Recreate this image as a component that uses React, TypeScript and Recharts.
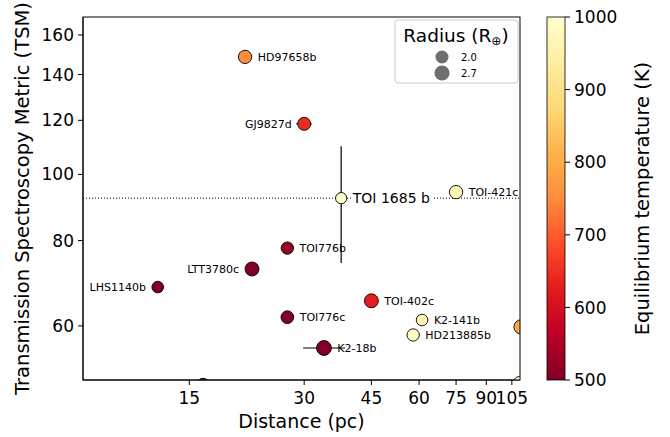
import React from 'react';
import { ScatterChart, Scatter, XAxis, YAxis, ReferenceLine, ErrorBar } from 'recharts';

// Planet sample: distance (pc), TSM, equilibrium temperature (K), radius (Earth radii)
const planetNames = [
  'HD97658b', 'GJ9827d', 'TOI 1685 b', 'TOI-421c', 'TOI776b', 'LTT3780c', 'LHS1140b',
  'TOI776c', 'K2-18b', 'TOI-402c', 'K2-141b', 'HD213885b', '', '', '',
];
const distances = [21.0, 30.0, 37.5, 75.0, 27.1, 21.9, 12.4, 27.1, 33.8, 45.0, 61.1, 57.9, 111, 16.3, 110];
const tsmValues = [148.6, 118.6, 92.3, 94.2, 78.0, 72.7, 68.4, 61.8, 55.7, 65.3, 61.2, 58.2, 59.8, 49.2, 49.6];
const teqValues = [750, 645, 1000, 970, 520, 500, 500, 500, 500, 630, 960, 990, 790, 500, 985];
const radii = [2.1, 2.0, 1.5, 2.1, 1.8, 2.3, 1.6, 1.9, 2.6, 2.3, 1.6, 1.8, 2.4, 2.0, 1.7];
const labelSides = ['right', 'left', 'right', 'right', 'right', 'left', 'left', 'right', 'right', 'right', 'right', 'right', 'right', 'right', 'right'];

// distance uncertainties (pc), [minus, plus]
const xErrPlanets = ['HD97658b', 'GJ9827d', 'TOI-421c', 'LHS1140b', 'K2-18b', 'K2-141b'];
const xErrValues = [[0.4, 0.4], [1.4, 1.4], [0.8, 0.8], [0.4, 0.4], [4.0, 4.6], [2.2, 2.2]];
// TSM uncertainties, [minus, plus]
const yErrPlanets = ['TOI 1685 b'];
const yErrValues = [[18.1, 17.7]];

const highlighted = 'TOI 1685 b';

const xTicks = [15, 30, 45, 60, 75, 90, 105];
const yTicks = [60, 80, 100, 120, 140, 160];
const xDomain = [7.9, 110.3];
const yDomain = [50, 170];

const teqTicks = [500, 600, 700, 800, 900, 1000];
const teqRange = [500, 1000];
const legendRadii = [2.0, 2.7];

// YlOrRd, light to dark
const YLORRD = ['#ffffcc', '#ffeda0', '#fed976', '#feb24c', '#fd8d3c', '#fc4e2a', '#e31a1c', '#bd0026', '#800026'];

const FONT = 'DejaVu Sans, sans-serif';

const hexToRgb = (h: string) => [1, 3, 5].map((i) => parseInt(h.slice(i, i + 2), 16));

const teqColor = (t: number) => {
  const f = Math.min(1, Math.max(0, (t - teqRange[0]) / (teqRange[1] - teqRange[0])));
  const pos = (1 - f) * (YLORRD.length - 1);
  const i = Math.min(Math.floor(pos), YLORRD.length - 2);
  const k = pos - i;
  const a = hexToRgb(YLORRD[i]);
  const b = hexToRgb(YLORRD[i + 1]);
  const c = a.map((v, j) => Math.round(v + (b[j] - v) * k));
  return `rgb(${c[0]},${c[1]},${c[2]})`;
};

// marker area grows linearly with planet radius
const dotRadius = (R: number) => 4.6 * Math.sqrt(R);

const planets = planetNames.map((name, i) => ({
  id: i,
  name,
  distance: distances[i],
  tsm: tsmValues[i],
  teq: teqValues[i],
  radius: radii[i],
  side: labelSides[i],
}));

const xErrData = xErrPlanets.map((name, i) => {
  const p = planets.find((q) => q.name === name)!;
  return { distance: p.distance, tsm: p.tsm, xErr: xErrValues[i] };
});
const yErrData = yErrPlanets.map((name, i) => {
  const p = planets.find((q) => q.name === name)!;
  return { distance: p.distance, tsm: p.tsm, yErr: yErrValues[i] };
});

const plotLeft = 83;
const plotTop = 17;
const plotRight = 520;
const plotBottom = 380;

const PlanetDot = (props: any) => {
  const { cx, cy, payload } = props;
  if (cx == null || cy == null) return null;
  const r = dotRadius(payload.radius);
  const big = payload.name === highlighted;
  const fs = big ? 14 : 11;
  const gap = r + 6;
  const tx = payload.side === 'left' ? cx - gap : cx + gap;
  const anchor = payload.side === 'left' ? 'end' : 'start';
  const textW = payload.name.length * fs * 0.56;
  const clipId = `planet-clip-${payload.id}`;
  return (
    <g>
      {/* markers are cut at the axes box, labels are not */}
      <clipPath id={clipId}>
        <rect x={plotLeft} y={plotTop} width={plotRight - plotLeft} height={plotBottom - plotTop} />
      </clipPath>
      <circle
        cx={cx}
        cy={cy}
        r={r}
        fill={teqColor(payload.teq)}
        stroke="#000"
        strokeWidth={0.9}
        clipPath={`url(#${clipId})`}
      />
      {payload.name && big && (
        <rect x={tx - 1} y={cy - fs * 0.6} width={textW + 2} height={fs * 1.2} fill="#fff" />
      )}
      {payload.name && (
        <text x={tx} y={cy} dy="0.36em" textAnchor={anchor} fontSize={fs} fontFamily={FONT} fill="#000">
          {payload.name}
        </text>
      )}
    </g>
  );
};

const NoShape = () => <g />;

const Overlay = () => {
  const barX = 547;
  const barW = 18;
  const barTop = plotTop;
  const barH = plotBottom - plotTop;
  const teqY = (t: number) => barTop + ((teqRange[1] - t) / (teqRange[1] - teqRange[0])) * barH;
  const midY = barTop + barH / 2;
  return (
    <svg width={670} height={437} style={{ position: 'absolute', left: 0, top: 0, pointerEvents: 'none' }}>
      <defs>
        <linearGradient id="teqGrad" x1="0" y1="0" x2="0" y2="1">
          {YLORRD.map((c, i) => (
            <stop key={c} offset={i / (YLORRD.length - 1)} stopColor={c} />
          ))}
        </linearGradient>
      </defs>
      {/* axes frame */}
      <rect
        x={plotLeft}
        y={plotTop}
        width={plotRight - plotLeft}
        height={plotBottom - plotTop}
        fill="none"
        stroke="#000"
        strokeWidth={1}
      />
      {/* radius legend */}
      <rect x={395} y={20} width={123} height={63} rx={3} fill="#fff" fillOpacity={0.8} stroke="#cccccc" />
      <text x={456} y={42} textAnchor="middle" fontSize={18.5} fontFamily={FONT} fill="#000">
        Radius (R<tspan fontSize={12} dy={3}>⊕</tspan><tspan dy={-3}>)</tspan>
      </text>
      {legendRadii.map((R, i) => (
        <g key={R}>
          <circle cx={442} cy={57 + i * 16} r={dotRadius(R)} fill="#6e6e6e" />
          <text x={461} y={57 + i * 16} dy="0.36em" fontSize={10} fontFamily={FONT} fill="#000">
            {R.toFixed(1)}
          </text>
        </g>
      ))}
      {/* temperature colorbar */}
      <rect x={barX} y={barTop} width={barW} height={barH} fill="url(#teqGrad)" stroke="#000" strokeWidth={0.8} />
      {teqTicks.map((t) => (
        <g key={t}>
          <line x1={barX + barW} x2={barX + barW + 5} y1={teqY(t)} y2={teqY(t)} stroke="#000" />
          <text x={barX + barW + 9} y={teqY(t)} dy="0.36em" fontSize={17} fontFamily={FONT} fill="#000">
            {t}
          </text>
        </g>
      ))}
      <text
        x={642}
        y={midY}
        transform={`rotate(-90, 642, ${midY})`}
        textAnchor="middle"
        dy="0.36em"
        fontSize={19.5}
        fontFamily={FONT}
        fill="#000"
      >
        Equilibrium temperature (K)
      </text>
    </svg>
  );
};

export default function App() {
  const tickStyle = { fontSize: 17, fontFamily: FONT, fill: '#000' };
  return (
    <div style={{ position: 'absolute', left: 0, top: 0, width: 670, height: 437, background: '#fff' }}>
      <ScatterChart
        width={670}
        height={437}
        margin={{ top: plotTop, right: 670 - plotRight, bottom: 437 - plotBottom - 48, left: 0 }}
      >
        <XAxis
          type="number"
          dataKey="distance"
          scale="log"
          domain={xDomain}
          allowDataOverflow
          ticks={xTicks}
          interval={0}
          height={48}
          tick={tickStyle}
          tickSize={5}
          tickMargin={7}
          stroke="#000"
          label={{ value: 'Distance (pc)', position: 'insideBottom', offset: 0, style: { fontSize: 19, fontFamily: FONT, fill: '#000' } }}
        />
        <YAxis
          type="number"
          dataKey="tsm"
          scale="log"
          domain={yDomain}
          allowDataOverflow
          ticks={yTicks}
          interval={0}
          width={plotLeft}
          tick={tickStyle}
          tickSize={5}
          tickMargin={4}
          stroke="#000"
          label={{
            value: 'Transmission Spectroscopy Metric (TSM)',
            angle: -90,
            position: 'insideLeft',
            offset: 22,
            style: { fontSize: 19.5, fontFamily: FONT, fill: '#000', textAnchor: 'middle' },
          }}
        />
        <ReferenceLine y={planets.find((p) => p.name === highlighted)!.tsm} stroke="#000" strokeWidth={1} strokeDasharray="1 2" />
        <Scatter data={planets} shape={PlanetDot} isAnimationActive={false} />
        <Scatter data={xErrData} shape={NoShape} isAnimationActive={false}>
          <ErrorBar dataKey="xErr" direction="x" width={0} stroke="#000" strokeWidth={1.2} />
        </Scatter>
        <Scatter data={yErrData} shape={NoShape} isAnimationActive={false}>
          <ErrorBar dataKey="yErr" direction="y" width={0} stroke="#000" strokeWidth={1.2} />
        </Scatter>
      </ScatterChart>
      <Overlay />
    </div>
  );
}
